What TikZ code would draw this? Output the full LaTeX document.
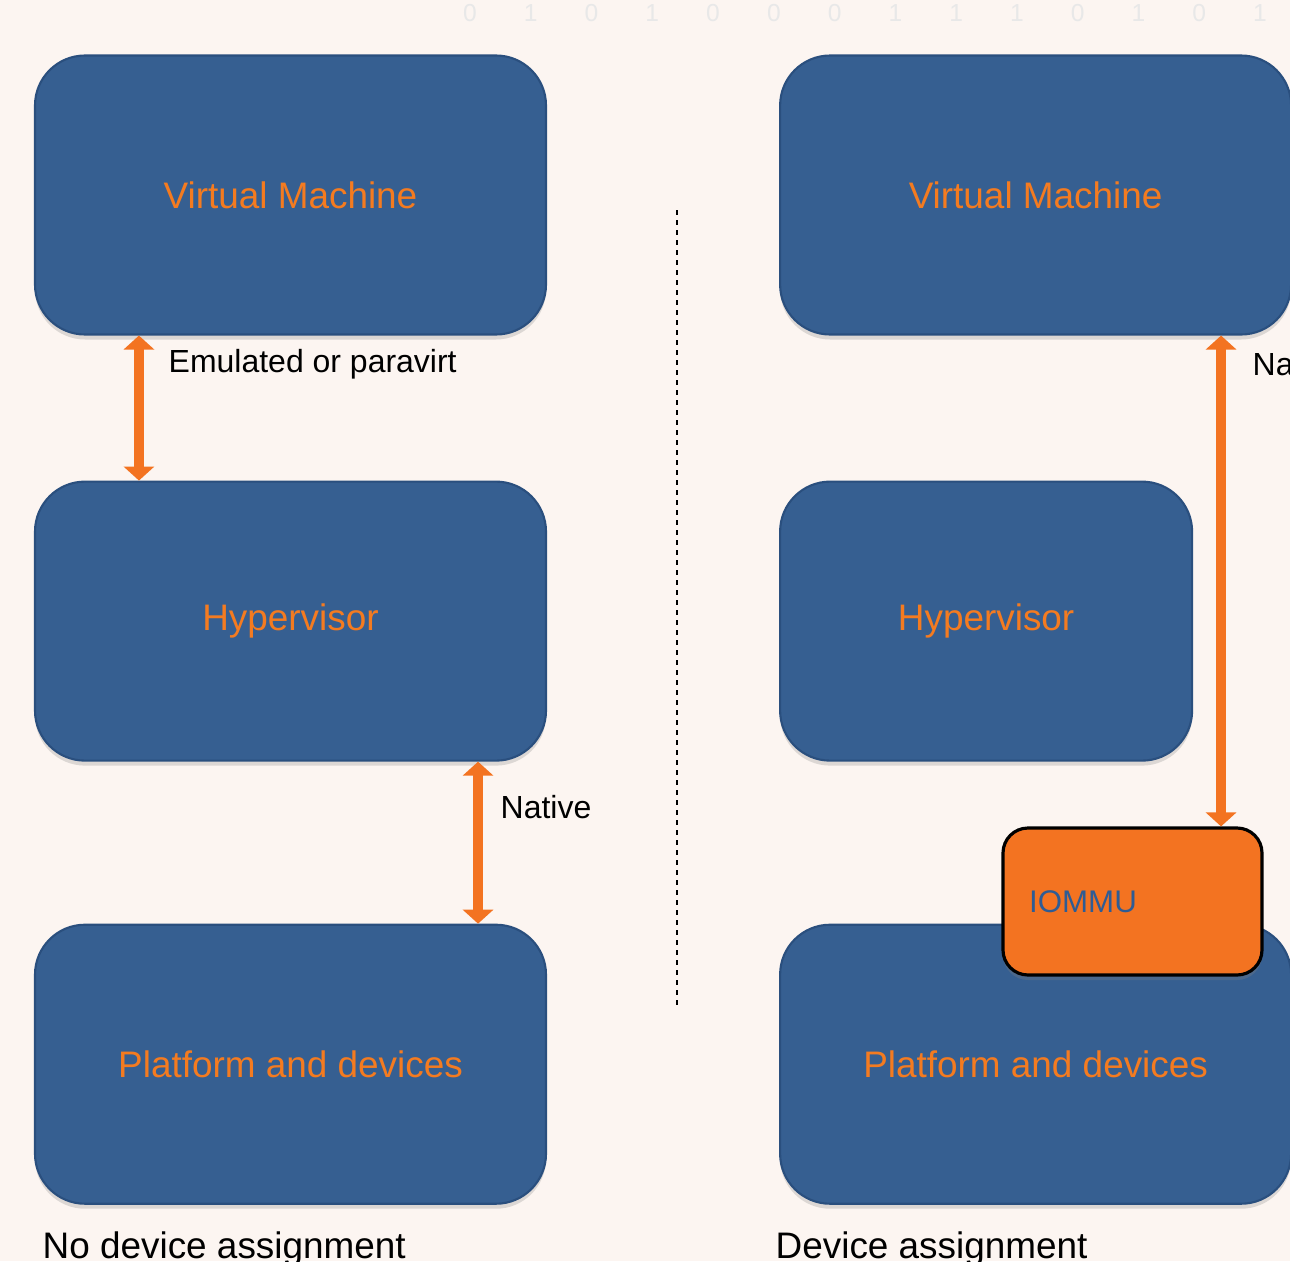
\documentclass[tikz,border=0pt]{standalone}
\usepackage{fontspec}
\setmainfont{Liberation Sans}
\usetikzlibrary{positioning,arrows.meta,shadows}
\definecolor{boxblue}{HTML}{365F91}
\definecolor{boxedge}{HTML}{2A4F7E}
\definecolor{vmorange}{HTML}{F47B20}
\definecolor{arrorange}{HTML}{F37321}
\definecolor{iommublue}{HTML}{2E5C94}
\definecolor{paper}{HTML}{FCF5F1}
\tikzset{
  blk/.style={rectangle, rounded corners=0.5cm, minimum width=5.11cm, minimum height=2.79cm, text centered, draw=boxedge, line width=0.6pt, fill=boxblue, text=vmorange, font=\fontsize{10.5}{12.6}\selectfont, drop shadow={shadow xshift=0pt, shadow yshift=-0.05cm, opacity=0.25}},
  mmu/.style={rectangle, rounded corners=0.25cm, minimum width=2.59cm, minimum height=1.47cm, draw=black, line width=0.9pt, fill=arrorange, drop shadow={shadow xshift=0pt, shadow yshift=-0.05cm, opacity=0.3}},
  lbl/.style={font=\fontsize{9.1}{11}\selectfont, text=black, inner sep=0pt},
  captxt/.style={font=\fontsize{10.5}{12.6}\selectfont, text=black, inner sep=0pt},
  digit/.style={font=\fontsize{7}{8}\selectfont, text=black!9, inner sep=0pt},
  dbl/.style={{Triangle[width=0.3cm,length=0.14cm]}-{Triangle[width=0.3cm,length=0.14cm]}, draw=arrorange, line width=0.1cm}
}
\begin{document}
\begin{tikzpicture}
	\useasboundingbox (0,0) rectangle (12.9,-12.61);
	\clip (0,0) rectangle (12.9,-12.61);
	\fill[paper] (0,0) rectangle (12.9,-12.61);
	\foreach \d [count=\i] in {0,1,0,1,0,0,0,1,1,1,0,1,0,1}
		\node[digit] at ({4.0923+0.6077*\i},-0.13) {\d};

	\node[blk] (vmL) at (2.905,-1.95) {Virtual Machine};
	\node[blk, below=1.45cm of vmL] (hypL) {Hypervisor};
	\node[blk, below=1.62cm of hypL] (platL) {Platform and devices};
	\node[blk, right=2.32cm of vmL] (vmR) {Virtual Machine};
	\node[blk, minimum width=4.12cm, below=1.45cm of vmR.south west, anchor=north west] (hypR) {Hypervisor};
	\node[blk, below=1.62cm of hypR.south west, anchor=north west] (platR) {Platform and devices};
	\node[mmu] (iommu) at (11.325,-9.015) {};
	\node[anchor=west, text=iommublue, font=\fontsize{8.9}{10}\selectfont, inner sep=0pt] (iommutxt) at ([xshift=0.27cm]iommu.west) {IOMMU};

	\coordinate (naTop) at ([xshift=4.42cm]vmR.south west);
	\draw[dbl] ([xshift=1.05cm]vmL.south west) -- ([xshift=1.05cm]hypL.north west);
	\draw[dbl] ([xshift=-0.69cm]hypL.south east) -- ([xshift=-0.69cm]platL.north east);
	\draw[dbl] (naTop) -- (naTop |- iommu.north);

	\node[lbl, anchor=west] (emu) at (1.68,-3.64) {Emulated or paravirt};
	\node[lbl, anchor=west] (nat) at (5.00,-8.07) {Native};
	\node[lbl, anchor=west] (natR) at (12.52,-3.64) {Native};

	\draw[dashed, dash pattern=on 0.05cm off 0.05cm, line width=0.5pt] (6.77,-2.1) -- (6.77,-10.1);

	\node[captxt, anchor=base west] (capL) at (0.42,-12.585) {No device assignment};
	\node[captxt, anchor=base west] (capR) at (7.75,-12.585) {Device assignment};
\end{tikzpicture}
\end{document}
